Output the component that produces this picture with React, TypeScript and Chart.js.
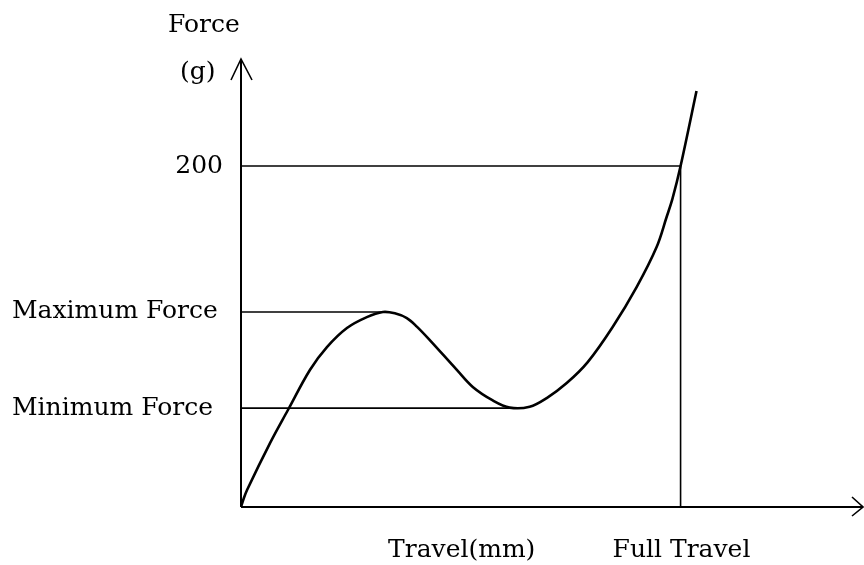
import React, { useEffect, useRef } from "react";
import { Chart, registerables } from "chart.js";

Chart.register(...registerables);

// Travel (arbitrary mm units, full travel = 4) and force (g)
const travel = [0, 0.02, 0.055, 0.264, 0.427, 0.627, 0.782, 0.964, 1.145, 1.291, 1.4, 1.509, 1.6, 1.718, 1.964, 2.109, 2.291, 2.445, 2.627, 2.782, 2.964, 3.155, 3.382, 3.6, 3.782, 3.873, 3.927, 4.0, 4.145];
const force = [0, 4.1, 10.0, 37.5, 56.9, 80.4, 93.8, 105.0, 111.4, 114.4, 113.6, 110.8, 105.8, 97.9, 80.4, 70.4, 62.5, 58.3, 58.8, 63.9, 72.7, 85.0, 105.6, 129.0, 152.5, 170.1, 181.0, 200, 244.0];

const FORCE_200 = 200;
const MAX_FORCE = 114.4;
const MAX_FORCE_TRAVEL = 1.291;
const MIN_FORCE = 58;
const MIN_FORCE_TRAVEL = 2.5;
const FULL_TRAVEL = 4.0;
const X_MAX = 5.66;
const Y_MAX = 262.8;

const yLabels = ["200", "Maximum Force", "Minimum Force"];
const yLabelValues = [FORCE_200, MAX_FORCE, MIN_FORCE];
const xLabels = ["Travel(mm)", "Full Travel"];

const FONT = "25px 'DejaVu Serif'";

const annotPlugin = {
  id: "annot",
  afterDraw(chart: any) {
    const { ctx, chartArea, scales } = chart;
    const xs = scales.x;
    const ys = scales.y;
    const x0 = xs.getPixelForValue(0);
    const y0 = ys.getPixelForValue(0);
    const xEnd = chartArea.right;
    const yTop = chartArea.top;
    ctx.save();
    ctx.strokeStyle = "#000";
    ctx.lineWidth = 2;
    ctx.lineCap = "butt";
    // y axis
    ctx.beginPath();
    ctx.moveTo(x0, y0);
    ctx.lineTo(x0, yTop);
    ctx.stroke();
    ctx.lineWidth = 1.6;
    ctx.beginPath();
    ctx.moveTo(x0 - 10, yTop + 21);
    ctx.lineTo(x0, yTop);
    ctx.lineTo(x0 + 11, yTop + 21);
    ctx.stroke();
    // x axis
    ctx.lineWidth = 2;
    ctx.beginPath();
    ctx.moveTo(x0, y0);
    ctx.lineTo(xEnd, y0);
    ctx.stroke();
    ctx.lineWidth = 1.6;
    ctx.beginPath();
    ctx.moveTo(xEnd - 11, y0 - 10);
    ctx.lineTo(xEnd, y0);
    ctx.lineTo(xEnd - 11, y0 + 9);
    ctx.stroke();

    // texts
    ctx.fillStyle = "#000";
    ctx.font = FONT;
    ctx.textBaseline = "alphabetic";
    ctx.textAlign = "left";
    ctx.fillText("Force", 168, 32);
    ctx.textBaseline = "middle";
    ctx.fillText("(g)", 180, 72);

    yLabels.forEach((t, i) => {
      const py = ys.getPixelForValue(yLabelValues[i]);
      if (i === 0) {
        ctx.textAlign = "right";
        ctx.fillText(t, x0 - 18, py);
      } else {
        ctx.textAlign = "left";
        ctx.fillText(t, 12, py);
      }
    });

    ctx.textAlign = "left";
    ctx.textBaseline = "alphabetic";
    ctx.fillText(xLabels[0], 388, 557);
    ctx.fillText(xLabels[1], xs.getPixelForValue(FULL_TRAVEL) - 68, 557);
    ctx.restore();
  },
};

export default function App() {
  const ref = useRef<HTMLCanvasElement | null>(null);
  useEffect(() => {
    if (!ref.current) return;
    const curve = travel.map((x, i) => ({ x, y: force[i] }));
    const refStyle = {
      borderColor: "#000",
      borderWidth: 1.6,
      pointRadius: 0,
      fill: false,
      tension: 0,
    };
    const chart = new Chart(ref.current, {
      type: "line",
      data: {
        datasets: [
          {
            data: curve,
            borderColor: "#000",
            borderWidth: 2.6,
            pointRadius: 0,
            fill: false,
            tension: 0.35,
          } as any,
          { ...refStyle, data: [{ x: 0, y: FORCE_200 }, { x: FULL_TRAVEL, y: FORCE_200 }] },
          { ...refStyle, data: [{ x: FULL_TRAVEL, y: FORCE_200 }, { x: FULL_TRAVEL, y: 0 }] },
          { ...refStyle, data: [{ x: 0, y: MAX_FORCE }, { x: MAX_FORCE_TRAVEL, y: MAX_FORCE }] },
          { ...refStyle, data: [{ x: 0, y: MIN_FORCE }, { x: MIN_FORCE_TRAVEL, y: MIN_FORCE }] },
        ],
      },
      options: {
        animation: false,
        responsive: false,
        maintainAspectRatio: false,
        layout: { padding: { left: 241, top: 59, right: 1, bottom: 58 } },
        plugins: { legend: { display: false }, tooltip: { enabled: false } },
        scales: {
          x: { type: "linear", min: 0, max: X_MAX, display: false },
          y: { type: "linear", min: 0, max: Y_MAX, display: false },
        },
      },
      plugins: [annotPlugin],
    });
    return () => chart.destroy();
  }, []);
  return (
    <div style={{ position: "fixed", left: 0, top: 0, width: 864, height: 565, background: "#fff" }}>
      <canvas ref={ref} width={864} height={565} style={{ width: 864, height: 565 }} />
    </div>
  );
}
